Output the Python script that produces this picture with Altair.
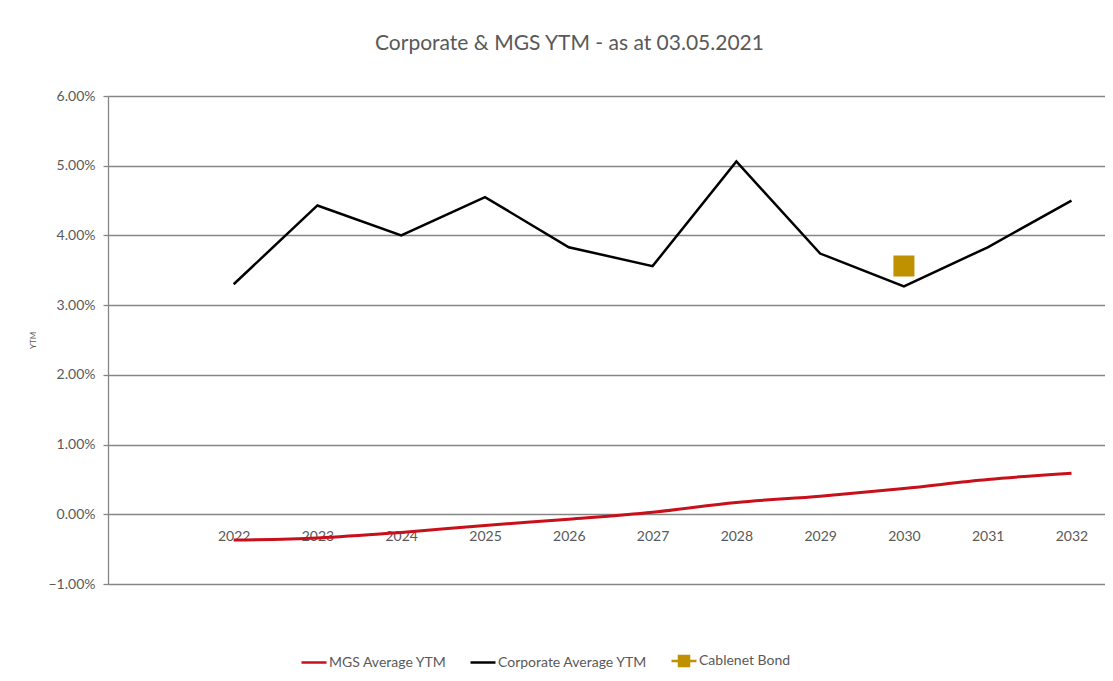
import altair as alt
import pandas as pd

years = [2022, 2023, 2024, 2025, 2026, 2027, 2028, 2029, 2030, 2031, 2032]
mgs_ytm = [-0.0037, -0.0034, -0.0026, -0.0016, -0.0007, 0.0003, 0.0017, 0.0026, 0.0037, 0.0050, 0.0059]
corp_ytm = [0.0330, 0.0443, 0.0400, 0.0455, 0.0383, 0.0356, 0.0506, 0.0374, 0.0327, 0.0383, 0.0450]
bond_year = [2030]
bond_ytm = [0.0356]

series_names = ["MGS Average YTM", "Corporate Average YTM", "Cablenet Bond"]
stroke_colors = ["#C8101A", "#000000", "#BF9000"]
fill_colors = ["transparent", "transparent", "#BF9000"]
shapes = ["stroke", "stroke", "M-1,0H1M-0.4,-0.4H0.4V0.4H-0.4Z"]
y_ticks = [-0.01, 0.0, 0.01, 0.02, 0.03, 0.04, 0.05, 0.06]

mgs = pd.DataFrame({"year": years, "ytm": mgs_ytm, "series": series_names[0]})
corp = pd.DataFrame({"year": years, "ytm": corp_ytm, "series": series_names[1]})
bond = pd.DataFrame({"year": bond_year, "ytm": bond_ytm, "series": series_names[2]})

FONT = "Lato"
GRAY = "#595959"

x_enc = alt.X(
    "year:Q",
    scale=alt.Scale(domain=[2020.5, 2032.4], nice=False, zero=False),
    axis=alt.Axis(
        values=years, format="d", title=None, grid=False, domain=False, ticks=False,
        offset=-69.7, labelPadding=15, labelFontSize=14, labelColor=GRAY, labelFont=FONT,
    ),
)
y_enc = alt.Y(
    "ytm:Q",
    scale=alt.Scale(domain=[-0.01, 0.06], nice=False, zero=False),
    axis=alt.Axis(
        values=y_ticks, format=".2%", title="YTM", titleFontSize=8, titleFontWeight="normal",
        titleColor=GRAY, titleFont=FONT, titlePadding=10,
        labelFontSize=14, labelColor=GRAY, labelFont=FONT, labelPadding=8,
        grid=True, gridColor="#868686", gridWidth=1.3,
        domain=True, domainColor="#868686", domainWidth=1.3,
        ticks=True, tickSize=5, tickColor="#868686", tickWidth=1.3,
    ),
)

legend = alt.Legend(
    title=None, orient="none", direction="horizontal", legendX=192, legendY=551,
    labelFont=FONT, labelFontSize=14, labelColor=GRAY, symbolSize=625,
    symbolStrokeWidth=2.5, columnPadding=18, labelOffset=1,
)
stroke_enc = alt.Stroke("series:N", scale=alt.Scale(domain=series_names, range=stroke_colors), legend=legend)
fill_enc = alt.Fill("series:N", scale=alt.Scale(domain=series_names, range=fill_colors), legend=legend)
shape_enc = alt.Shape("series:N", scale=alt.Scale(domain=series_names, range=shapes), legend=legend)

mgs_line = alt.Chart(mgs).mark_line(strokeWidth=3, interpolate="monotone").encode(
    x=x_enc, y=y_enc, stroke=stroke_enc
)
corp_line = alt.Chart(corp).mark_line(strokeWidth=2.5).encode(
    x=x_enc, y=y_enc, stroke=stroke_enc
)
bond_pt = alt.Chart(bond).mark_point(filled=True, size=2756, strokeWidth=0, opacity=1).encode(
    x=x_enc, y=y_enc, fill=fill_enc, stroke=stroke_enc, shape=shape_enc
)

chart = alt.layer(mgs_line, corp_line, bond_pt).properties(
    width=997,
    height=488,
    autosize=alt.AutoSizeParams(type="none"),
    padding={"left": 100, "top": 88, "right": 0, "bottom": 88},
    title=alt.Title(
        "Corporate & MGS YTM - as at 03.05.2021", font=FONT, fontSize=21, fontWeight="normal",
        color=GRAY, anchor="middle", offset=35, dx=-37,
    ),
).configure_view(stroke=None).configure(background="white")

chart.save("out.html", embed_options={"renderer": "svg", "actions": False})
